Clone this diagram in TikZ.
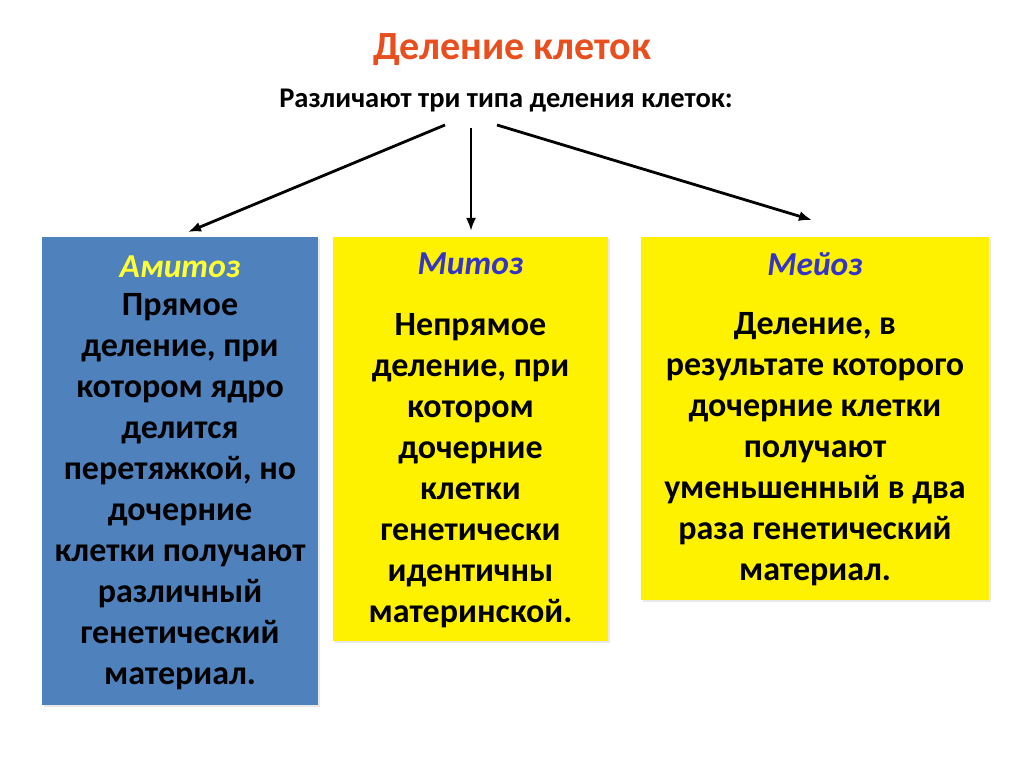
\documentclass[tikz,border=0pt]{standalone}
\usepackage{fontspec}
\setmainfont{Carlito}
\usetikzlibrary{positioning,arrows.meta,shadows}
\definecolor{boxblue}{RGB}{79,129,189}
\definecolor{titlered}{RGB}{232,78,30}
\definecolor{nameblue}{RGB}{52,52,200}
\definecolor{nameyellow}{RGB}{255,255,50}
\begin{document}
\begin{tikzpicture}[
  x=1pt, y=-1pt,
  box/.style={rectangle, inner sep=0pt, drop shadow={opacity=0.18, shadow xshift=2pt, shadow yshift=-2pt}},
  kindname/.style={font=\fontsize{33.5}{40}\selectfont\bfseries\itshape},
  body/.style={align=center, inner sep=0pt, font=\fontsize{34}{41}\selectfont\bfseries},
  arrow/.style={-{Latex[length=13pt,width=10pt]}, line width=2.8pt}
]
\fill[white] (0,0) rectangle (1024,767);
\useasboundingbox (0,0) rectangle (1024,767);

\node[font=\fontsize{40}{48}\selectfont\bfseries, text=titlered] (title) at (512,50) {Деление клеток};
\node[font=\fontsize{28.5}{34}\selectfont\bfseries] (sub) at (506,101) {Различают три типа деления клеток:};

% Boxes
\node[box, fill=boxblue, minimum width=276pt, minimum height=468pt] (amitoz) at (180,471) {};
\node[box, fill=yellow, minimum width=275pt, minimum height=404pt] (mitoz) at (470.5,439) {};
\node[box, fill=yellow, minimum width=348pt, minimum height=363pt] (meioz) at (815,418.5) {};

\node[kindname, text=nameyellow] (amitozname) at (180,267) {Амитоз};
\node[kindname, text=nameblue] (mitozname) at (470.5,264) {Митоз};
\node[kindname, text=nameblue] (meiozname) at (815,264) {Мейоз};

\node[body] (amitoztext) at (180,492) {Прямое\\деление, при\\котором ядро\\делится\\перетяжкой, но\\дочерние\\клетки получают\\различный\\генетический\\материал.};
\node[body] (mitoztext) at (470.5,470.5) {Непрямое\\деление, при\\котором\\дочерние\\клетки\\генетически\\идентичны\\материнской.};
\node[body] (meioztext) at (815,449.5) {Деление, в\\результате которого\\дочерние клетки\\получают\\уменьшенный в два\\раза генетический\\материал.};

% Arrows
\coordinate (fromL) at (445,125);
\coordinate (fromM) at (471,128);
\coordinate (fromR) at (497,125);
\coordinate (toL) at (188,232);
\coordinate (toM) at (471,231);
\coordinate (toR) at (812,220);
\draw[arrow] (fromL) -- (toL);
\draw[arrow] (fromM) -- (toM);
\draw[arrow] (fromR) -- (toR);
\end{tikzpicture}
\end{document}
